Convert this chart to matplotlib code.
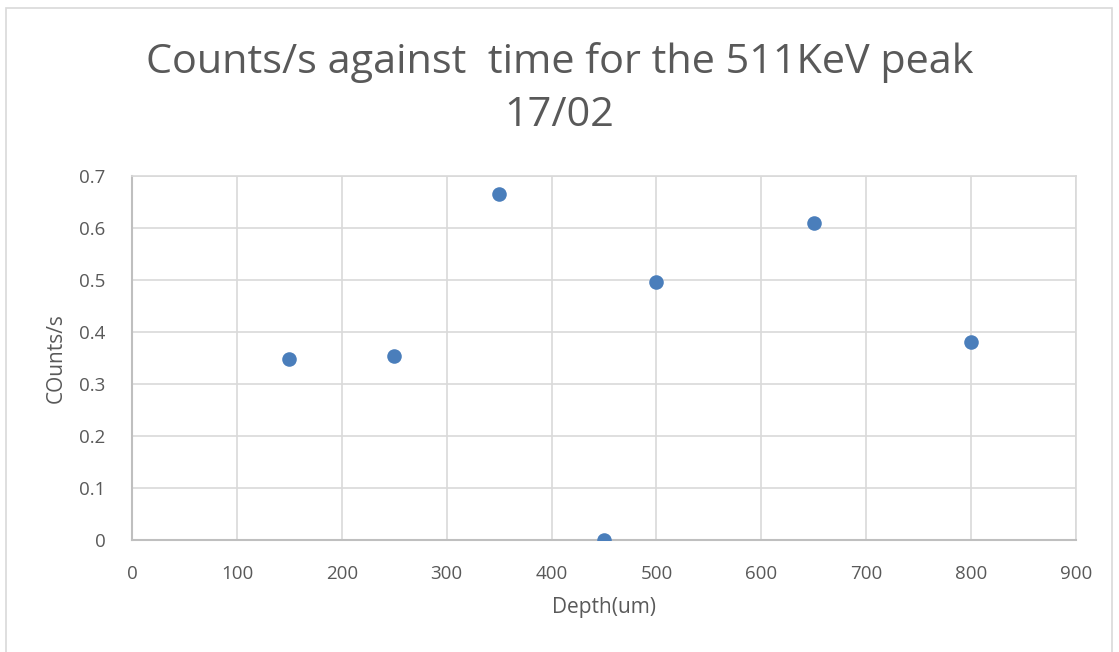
import matplotlib.pyplot as plt
from matplotlib.patches import Rectangle

plt.rcParams['font.family'] = ['Open Sans', 'DejaVu Sans']

# measured counts per second at each depth
depth = [150, 250, 350, 450, 500, 650, 800]
counts = [0.348, 0.354, 0.665, 0.0, 0.496, 0.610, 0.381]

grey_text = '#595959'
grid_col = '#d9d9d9'

fig = plt.figure(figsize=(11.19, 6.52), dpi=100)
ax = fig.add_axes([0.118, 0.172, 0.8436, 0.558])

# outer chart border
fig.patches.append(Rectangle((6 / 1119, -0.01), 1106 / 1119, 1 - 8 / 652 + 0.01,
                             transform=fig.transFigure, fill=False,
                             edgecolor='#d9d9d9', linewidth=1.2))

ax.scatter(depth, counts, s=110, color='#4a7ebb', zorder=3, linewidths=0)

ax.set_xlim(0, 900)
ax.set_ylim(0, 0.7)
ax.set_xticks(range(0, 901, 100))
ax.set_yticks([0, 0.1, 0.2, 0.3, 0.4, 0.5, 0.6, 0.7])
ax.set_yticklabels(['0', '0.1', '0.2', '0.3', '0.4', '0.5', '0.6', '0.7'])
ax.grid(True, color=grid_col, linewidth=1.2)
ax.set_axisbelow(True)
for side in ['top', 'right']:
    ax.spines[side].set_color(grid_col)
    ax.spines[side].set_linewidth(1.2)
for side in ['left', 'bottom']:
    ax.spines[side].set_color('#bfbfbf')
    ax.spines[side].set_linewidth(1.5)
ax.tick_params(length=0, labelsize=13.5, labelcolor=grey_text)
ax.tick_params(axis='x', pad=18)
ax.tick_params(axis='y', pad=19)

ax.set_xlabel('Depth(um)', fontsize=15, color=grey_text, labelpad=10)
ax.set_ylabel('COunts/s', fontsize=15, color=grey_text, labelpad=9)

fig.text(0.5, 0.864, 'Counts/s against  time for the 511KeV peak\n17/02',
         ha='center', va='center', fontsize=29.8, color=grey_text, linespacing=1.42)

fig.savefig('out.png', dpi=100)
